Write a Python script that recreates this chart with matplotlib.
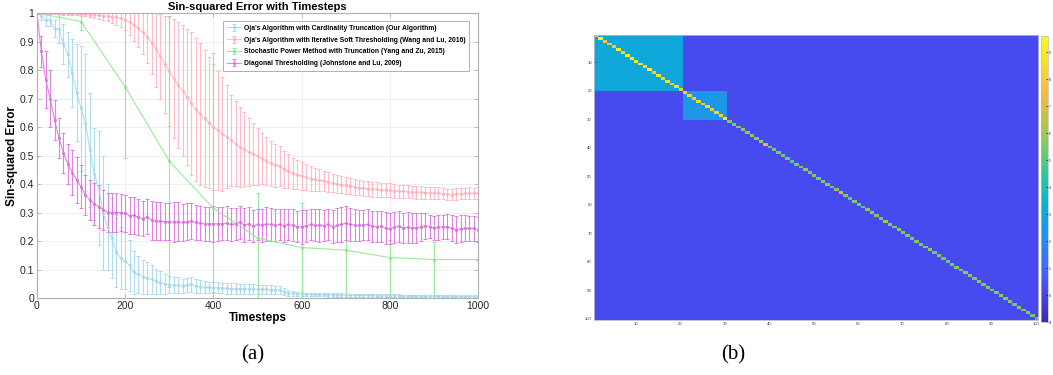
import numpy as np
import matplotlib
matplotlib.use("Agg")
import matplotlib.pyplot as plt
from matplotlib.colors import LinearSegmentedColormap

# --- data: panel (a) ---
steps = list(range(0, 1001, 10))
green_steps = list(range(0, 1001, 100))

blue_vals = [1.0, 0.99, 0.975, 0.975, 0.945, 0.945, 0.89, 0.855, 0.79, 0.72,
             0.665, 0.615, 0.52, 0.435, 0.385, 0.30, 0.25, 0.21, 0.16, 0.14,
             0.13, 0.115, 0.09, 0.083, 0.075, 0.07, 0.065, 0.058, 0.054, 0.05,
             0.047, 0.045, 0.045, 0.042, 0.045, 0.048, 0.042, 0.04, 0.038, 0.037,
             0.036, 0.036, 0.035, 0.034, 0.033, 0.033, 0.032, 0.032, 0.031, 0.031,
             0.031, 0.030, 0.030, 0.029, 0.028, 0.027, 0.022, 0.018, 0.016, 0.015,
             0.014, 0.013, 0.013, 0.012, 0.012, 0.012, 0.011, 0.011, 0.011, 0.010,
             0.010, 0.010, 0.009, 0.009, 0.009, 0.009, 0.009, 0.008, 0.008, 0.008,
             0.008, 0.008, 0.008, 0.007, 0.007, 0.007, 0.007, 0.007, 0.007, 0.006,
             0.006, 0.006, 0.006, 0.006, 0.006, 0.006, 0.005, 0.005, 0.005, 0.005,
             0.005]
blue_err = [0.0, 0.015, 0.02, 0.02, 0.03, 0.05, 0.07, 0.08, 0.12, 0.17,
            0.22, 0.24, 0.20, 0.16, 0.20, 0.20, 0.15, 0.14, 0.12, 0.11,
            0.10, 0.09, 0.075, 0.065, 0.06, 0.055, 0.05, 0.045, 0.04, 0.035,
            0.03, 0.028, 0.027, 0.026, 0.025, 0.026, 0.024, 0.022, 0.021, 0.02,
            0.02, 0.02, 0.019, 0.019, 0.018, 0.018, 0.018, 0.017, 0.017, 0.017,
            0.016, 0.016, 0.016, 0.015, 0.015, 0.014, 0.012, 0.01, 0.008, 0.007,
            0.007, 0.006, 0.006, 0.006, 0.006, 0.006, 0.006, 0.006, 0.006, 0.006,
            0.006, 0.005, 0.005, 0.005, 0.005, 0.005, 0.005, 0.005, 0.005, 0.005,
            0.005, 0.005, 0.005, 0.005, 0.005, 0.005, 0.005, 0.005, 0.005, 0.005,
            0.005, 0.004, 0.004, 0.004, 0.004, 0.004, 0.004, 0.004, 0.004, 0.004,
            0.004]

pink_vals = [1.0, 1.0, 1.0, 1.0, 0.999, 0.999, 0.998, 0.998, 0.997, 0.997,
             0.996, 0.995, 0.994, 0.993, 0.992, 0.99, 0.989, 0.987, 0.985, 0.981,
             0.976, 0.968, 0.958, 0.946, 0.932, 0.915, 0.895, 0.872, 0.848, 0.82,
             0.795, 0.77, 0.748, 0.728, 0.705, 0.683, 0.662, 0.645, 0.63, 0.615,
             0.60, 0.588, 0.576, 0.566, 0.553, 0.542, 0.531, 0.522, 0.513, 0.505,
             0.498, 0.489, 0.481, 0.472, 0.466, 0.462, 0.452, 0.445, 0.437, 0.433,
             0.428, 0.424, 0.419, 0.416, 0.413, 0.411, 0.407, 0.403, 0.399, 0.397,
             0.395, 0.393, 0.39, 0.387, 0.385, 0.384, 0.382, 0.381, 0.38, 0.379,
             0.378, 0.376, 0.375, 0.374, 0.373, 0.372, 0.371, 0.371, 0.37, 0.369,
             0.368, 0.368, 0.366, 0.364, 0.363, 0.365, 0.366, 0.367, 0.368, 0.367,
             0.368]
pink_err = [0.0, 0.002, 0.002, 0.003, 0.003, 0.003, 0.004, 0.004, 0.004, 0.004,
            0.005, 0.006, 0.008, 0.01, 0.012, 0.015, 0.018, 0.022, 0.026, 0.03,
            0.035, 0.045, 0.055, 0.065, 0.075, 0.09, 0.11, 0.13, 0.15, 0.17,
            0.19, 0.21, 0.22, 0.23, 0.24, 0.25, 0.25, 0.25, 0.24, 0.23,
            0.22, 0.21, 0.20, 0.18, 0.16, 0.15, 0.14, 0.13, 0.12, 0.11,
            0.10, 0.09, 0.085, 0.08, 0.075, 0.07, 0.065, 0.06, 0.055, 0.05,
            0.048, 0.045, 0.043, 0.04, 0.038, 0.036, 0.034, 0.032, 0.031, 0.03,
            0.029, 0.028, 0.028, 0.027, 0.027, 0.026, 0.026, 0.025, 0.025, 0.025,
            0.024, 0.024, 0.023, 0.023, 0.023, 0.022, 0.022, 0.022, 0.021, 0.021,
            0.021, 0.021, 0.02, 0.02, 0.02, 0.02, 0.02, 0.02, 0.02, 0.02,
            0.02]

green_vals = [1.0, 0.97, 0.74, 0.48, 0.315, 0.21, 0.177, 0.168, 0.142, 0.135, 0.135]
green_lo = [0.0, 0.03, 0.25, 0.44, 0.295, 0.21, 0.177, 0.168, 0.142, 0.135, 0.0]
green_hi = [0.0, 0.03, 0.26, 0.51, 0.545, 0.16, 0.155, 0.145, 0.06, 0.06, 0.0]

mag_vals = [1.0, 0.865, 0.765, 0.70, 0.625, 0.56, 0.51, 0.47, 0.44, 0.415,
            0.39, 0.36, 0.345, 0.33, 0.32, 0.31, 0.30, 0.30, 0.30, 0.30,
            0.298, 0.288, 0.29, 0.283, 0.278, 0.285, 0.272, 0.27, 0.27, 0.268,
            0.268, 0.266, 0.268, 0.265, 0.268, 0.27, 0.266, 0.262, 0.26, 0.26,
            0.26, 0.261, 0.26, 0.262, 0.258, 0.26, 0.266, 0.256, 0.26, 0.252,
            0.258, 0.255, 0.26, 0.258, 0.255, 0.258, 0.254, 0.258, 0.255, 0.25,
            0.25, 0.252, 0.258, 0.255, 0.256, 0.254, 0.258, 0.25, 0.255, 0.258,
            0.262, 0.258, 0.256, 0.255, 0.256, 0.258, 0.252, 0.25, 0.252, 0.245,
            0.243, 0.248, 0.252, 0.245, 0.248, 0.246, 0.246, 0.25, 0.253, 0.25,
            0.246, 0.248, 0.25, 0.25, 0.245, 0.24, 0.243, 0.245, 0.244, 0.244,
            0.24]
mag_err = [0.0, 0.055, 0.10, 0.10, 0.07, 0.07, 0.07, 0.07, 0.08, 0.08,
           0.075, 0.07, 0.07, 0.075, 0.075, 0.07, 0.07, 0.07, 0.068, 0.066,
           0.065, 0.065, 0.064, 0.063, 0.062, 0.062, 0.07, 0.068, 0.066, 0.066,
           0.065, 0.07, 0.068, 0.065, 0.064, 0.064, 0.062, 0.06, 0.06, 0.06,
           0.062, 0.06, 0.058, 0.06, 0.058, 0.056, 0.058, 0.06, 0.058, 0.056,
           0.056, 0.058, 0.06, 0.058, 0.056, 0.055, 0.058, 0.056, 0.056, 0.055,
           0.06, 0.056, 0.055, 0.056, 0.058, 0.055, 0.056, 0.058, 0.06, 0.06,
           0.06, 0.058, 0.056, 0.055, 0.054, 0.056, 0.055, 0.054, 0.055, 0.056,
           0.055, 0.054, 0.054, 0.052, 0.055, 0.054, 0.052, 0.05, 0.045, 0.04,
           0.042, 0.045, 0.042, 0.044, 0.046, 0.048, 0.048, 0.046, 0.045, 0.045,
           0.044]

labels = ["Oja's Algorithm with Cardinality Truncation (Our Algorithm)",
          "Oja's Algorithm with Iterative Soft Thresholding (Wang and Lu, 2016)",
          "Stochastic Power Method with Truncation (Yang and Zu, 2015)",
          "Diagonal Thresholding (Johnstone and Lu, 2009)"]

# --- data: panel (b) ---
n_dim = 100
background_val = 0.2
block1_size, block1_val = 20, 3.0
block2_start, block2_end, block2_val = 20, 30, 2.5
diag_vals = [7.8, 9.4, 8.0, 7.8, 7.9, 9.2, 8.2, 9.4, 9.0, 9.3,
             8.6, 8.2, 9.2, 8.0, 9.0, 8.2, 9.0, 8.0, 8.6, 8.0,
             8.0, 8.4, 8.0, 8.3, 8.0, 8.6, 8.0, 8.2, 8.0, 9.0,
             5.6, 5.4, 5.5, 5.8, 5.6, 5.9, 5.7, 6.0, 7.0, 5.5,
             5.3, 5.6, 5.5, 5.2, 5.0, 5.4, 5.6, 5.8, 5.5, 5.7,
             5.4, 5.6, 5.8, 5.5, 5.6, 6.8, 5.5, 5.3, 5.6, 5.5,
             5.2, 5.7, 5.8, 5.6, 5.5, 6.2, 5.9, 5.6, 5.8, 5.5,
             5.6, 5.4, 5.5, 5.6, 5.7, 5.8, 5.5, 5.6, 5.3, 5.2,
             5.4, 5.6, 5.5, 5.8, 5.6, 5.5, 5.7, 5.5, 5.6, 5.4,
             5.5, 5.8, 5.6, 5.7, 5.5, 5.6, 5.4, 5.5, 5.3, 5.6]
cbar_ticks = [-1, 0, 1, 2, 3, 4, 5, 6, 7, 8, 9]
matrix_ticks = [10, 20, 30, 40, 50, 60, 70, 80, 90, 100]

# parula-like colormap
parula = LinearSegmentedColormap.from_list("parula", [
    (0.00, (0.2422, 0.1504, 0.6603)), (0.05, (0.2647, 0.2129, 0.8098)),
    (0.10, (0.2783, 0.2760, 0.9219)), (0.15, (0.2810, 0.3484, 0.9883)),
    (0.20, (0.2413, 0.4240, 0.9961)), (0.30, (0.1406, 0.5631, 0.9310)),
    (0.40, (0.0372, 0.6854, 0.8338)), (0.50, (0.1496, 0.7749, 0.6474)),
    (0.60, (0.4420, 0.8001, 0.4225)), (0.70, (0.7351, 0.7651, 0.2586)),
    (0.80, (0.9738, 0.7328, 0.2400)), (0.90, (0.9738, 0.8641, 0.1683)),
    (1.00, (0.9769, 0.9839, 0.0805))])

plt.rcParams['font.family'] = ['Liberation Sans', 'DejaVu Sans']

fig = plt.figure(figsize=(10.53, 3.75), dpi=100)

# --- panel (a) ---
ax = fig.add_axes([0.0351, 0.2053, 0.419, 0.76])
colors = ['#a3d8ec', '#ffb0be', '#88e888', '#dc6edc']
series = [(steps, blue_vals, blue_err), (steps, pink_vals, pink_err),
          (green_steps, green_vals, [green_lo, green_hi]), (steps, mag_vals, mag_err)]
for (xs, ys, err), c, lab in zip(series, colors, labels):
    ax.errorbar(xs, ys, yerr=err, color=c, lw=0.8, alpha=0.85,
                marker='.', ms=2.5, elinewidth=0.8, capsize=1.5, capthick=0.7, label=lab)

ax.set_xlim(0, 1000)
ax.set_ylim(0, 1)
ax.set_xticks([0, 200, 400, 600, 800, 1000])
ax.set_yticks([0, 0.1, 0.2, 0.3, 0.4, 0.5, 0.6, 0.7, 0.8, 0.9, 1])
ax.set_yticklabels(['0', '0.1', '0.2', '0.3', '0.4', '0.5', '0.6', '0.7', '0.8', '0.9', '1'])
ax.grid(True, color='#ebebeb', lw=0.6)
ax.set_axisbelow(True)
for s in ax.spines.values():
    s.set_color('#b0b0b0')
    s.set_linewidth(0.8)
ax.tick_params(direction='in', length=3, width=0.6, color='#b0b0b0',
               labelsize=7.5, labelcolor='#262626', top=True, right=True, pad=2)
ax.set_title("Sin-squared Error with Timesteps", fontsize=8, fontweight='bold', pad=2)
ax.set_xlabel("Timesteps", fontsize=8.5, fontweight='bold', labelpad=1)
ax.set_ylabel("Sin-squared Error", fontsize=8.5, fontweight='bold', labelpad=1)
leg = ax.legend(loc='upper right', prop={'weight': 'bold', 'size': 4.9},
                frameon=True, fancybox=False, borderpad=0.6, labelspacing=0.7,
                handlelength=2.0, handletextpad=0.4, bbox_to_anchor=(0.988, 0.985))
leg.get_frame().set_edgecolor('#b0b0b0')
leg.get_frame().set_linewidth(0.7)
leg.get_frame().set_alpha(1)

# --- panel (b) ---
mat = np.full((n_dim, n_dim), background_val)
mat[:block1_size, :block1_size] = block1_val
mat[block2_start:block2_end, block2_start:block2_end] = block2_val
mat[np.arange(n_dim), np.arange(n_dim)] = diag_vals

axb = fig.add_axes([0.564, 0.1467, 0.4217, 0.76])
im = axb.imshow(mat, cmap=parula, vmin=-1, vmax=9.6, aspect='auto',
                interpolation='nearest', extent=(0.5, 100.5, 100.5, 0.5))
axb.set_xticks(matrix_ticks)
axb.set_yticks(matrix_ticks)
axb.tick_params(direction='in', length=2, width=0.4, labelsize=3, color='#555555',
                labelcolor='#333333', pad=1.5)
for s in axb.spines.values():
    s.set_color('#b8b8d0')
    s.set_linewidth(0.6)

cax = fig.add_axes([0.9885, 0.1413, 0.0065, 0.762])
cb = fig.colorbar(im, cax=cax, ticks=cbar_ticks)
cb.ax.tick_params(direction='in', length=1.5, width=0.4, labelsize=2.3, pad=0.8)
cb.outline.set_edgecolor('#b8b8d0')
cb.outline.set_linewidth(0.5)

fig.text(0.240, 0.055, "(a)", fontsize=15, family='Liberation Serif', ha='center', va='center')
fig.text(0.696, 0.055, "(b)", fontsize=15, family='Liberation Serif', ha='center', va='center')

fig.savefig("out.png", dpi=100)
